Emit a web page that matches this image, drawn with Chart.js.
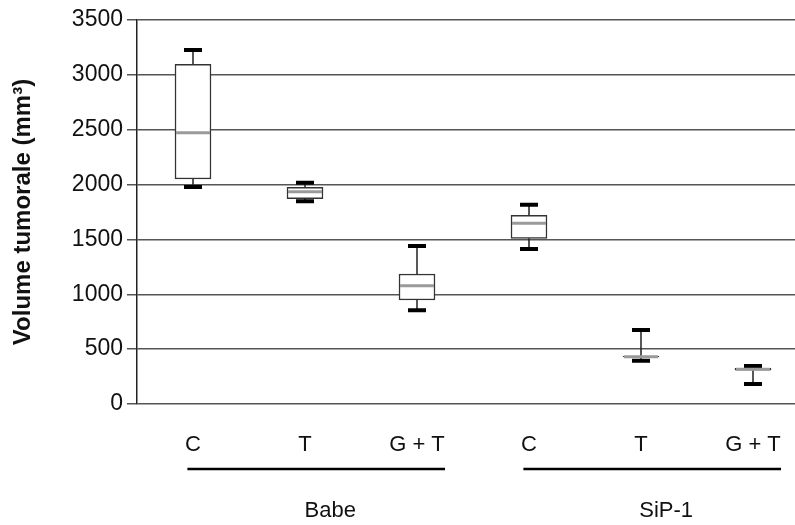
<!DOCTYPE html>
<html><head><meta charset="utf-8">
<script src="https://cdn.jsdelivr.net/npm/chart.js@4"></script>
<style>html,body{margin:0;padding:0;background:#fff}#wrap{width:795px;height:525px;position:relative}</style>
</head><body><div id="wrap"><canvas id="c"></canvas></div>
<script>
const categories = ['C', 'T', 'G + T', 'C', 'T', 'G + T'];
const groupNames = ['Babe', 'SiP-1'];
const groupFirst = [0, 3];
const groupLast = [2, 5];
const whiskerMin = [1978, 1848, 854, 1413, 395, 182];
const q1 = [2051, 1871, 948, 1510, 428, 308];
const median = [2473, 1935, 1078, 1647, 431, 316];
const q3 = [3097, 1975, 1185, 1720, 434, 324];
const whiskerMax = [3227, 2017, 1440, 1817, 675, 346];
const yTickValues = [0, 500, 1000, 1500, 2000, 2500, 3000, 3500];

const FONT = '"Liberation Sans", Arial, sans-serif';

const boxPlugin = {
  id: 'boxparts',
  afterDatasetsDraw(chart) {
    const ctx = chart.ctx, x = chart.scales.x, y = chart.scales.y;
    ctx.save();
    categories.forEach((_, i) => {
      const cx = x.getPixelForValue(i);
      ctx.strokeStyle = '#222'; ctx.lineWidth = 1.5;
      ctx.beginPath();
      ctx.moveTo(cx, y.getPixelForValue(q3[i])); ctx.lineTo(cx, y.getPixelForValue(whiskerMax[i]));
      ctx.moveTo(cx, y.getPixelForValue(q1[i])); ctx.lineTo(cx, y.getPixelForValue(whiskerMin[i]));
      ctx.stroke();
      ctx.strokeStyle = '#000'; ctx.lineWidth = 4;
      ctx.beginPath();
      [whiskerMax[i], whiskerMin[i]].forEach(v => {
        const py = y.getPixelForValue(v);
        ctx.moveTo(cx - 9, py); ctx.lineTo(cx + 9, py);
      });
      ctx.stroke();
      ctx.strokeStyle = '#9a9a9a'; ctx.lineWidth = 3;
      ctx.beginPath();
      const my = y.getPixelForValue(median[i]);
      ctx.moveTo(cx - 17, my); ctx.lineTo(cx + 17, my);
      ctx.stroke();
    });
    ctx.restore();
  },
  afterDraw(chart) {
    const ctx = chart.ctx, x = chart.scales.x;
    ctx.save();
    groupNames.forEach((name, g) => {
      const x0 = x.getPixelForValue(groupFirst[g] - 0.05);
      const x1 = x.getPixelForValue(groupLast[g] + 0.25);
      ctx.strokeStyle = '#000'; ctx.lineWidth = 2.5;
      ctx.beginPath(); ctx.moveTo(x0, 469); ctx.lineTo(x1, 469); ctx.stroke();
      ctx.fillStyle = '#111';
      ctx.font = '22px ' + FONT;
      ctx.textAlign = 'center'; ctx.textBaseline = 'middle';
      ctx.fillText(name, (x0 + x1) / 2 + 14, 511);
    });
    ctx.restore();
  }
};

new Chart(document.getElementById('c'), {
  type: 'bar',
  data: {
    datasets: [{
      data: categories.map((_, i) => ({ x: i, y: [q1[i], q3[i]] })),
      backgroundColor: '#fff',
      borderColor: '#333',
      borderWidth: 1.5,
      borderSkipped: false,
      barThickness: 36
    }]
  },
  options: {
    responsive: true,
    maintainAspectRatio: false,
    animation: false,
    layout: { padding: { top: 20, right: 0, bottom: 0, left: 0 } },
    plugins: { legend: { display: false }, tooltip: { enabled: false } },
    scales: {
      x: {
        type: 'linear', min: -0.5, max: 5.375, offset: false,
        grid: { display: false, drawTicks: true, tickLength: 28 },
        border: { display: false },
        afterBuildTicks: s => { s.ticks = categories.map((_, i) => ({ value: i })); },
        afterFit: s => { s.height = 121; },
        ticks: {
          autoSkip: false, maxRotation: 0, padding: 0,
          color: '#111', font: { family: FONT, size: 22 },
          callback: v => categories[v]
        }
      },
      y: {
        min: 0, max: 3500,
        afterBuildTicks: s => { s.ticks = yTickValues.map(v => ({ value: v })); },
        afterFit: s => { s.width = 137; },
        grid: { color: '#555', lineWidth: 1.5, tickLength: 10, drawTicks: true },
        border: { display: true, color: '#222', width: 1.5 },
        ticks: { padding: 4, color: '#111', font: { family: FONT, size: 23 }, callback: v => String(v) },
        title: {
          display: true, text: 'Volume tumorale (mm³)', color: '#111',
          font: { family: FONT, size: 24, weight: 'bold' },
          padding: { top: 9, bottom: 0 }
        }
      }
    }
  },
  plugins: [boxPlugin]
});
</script></body></html>
